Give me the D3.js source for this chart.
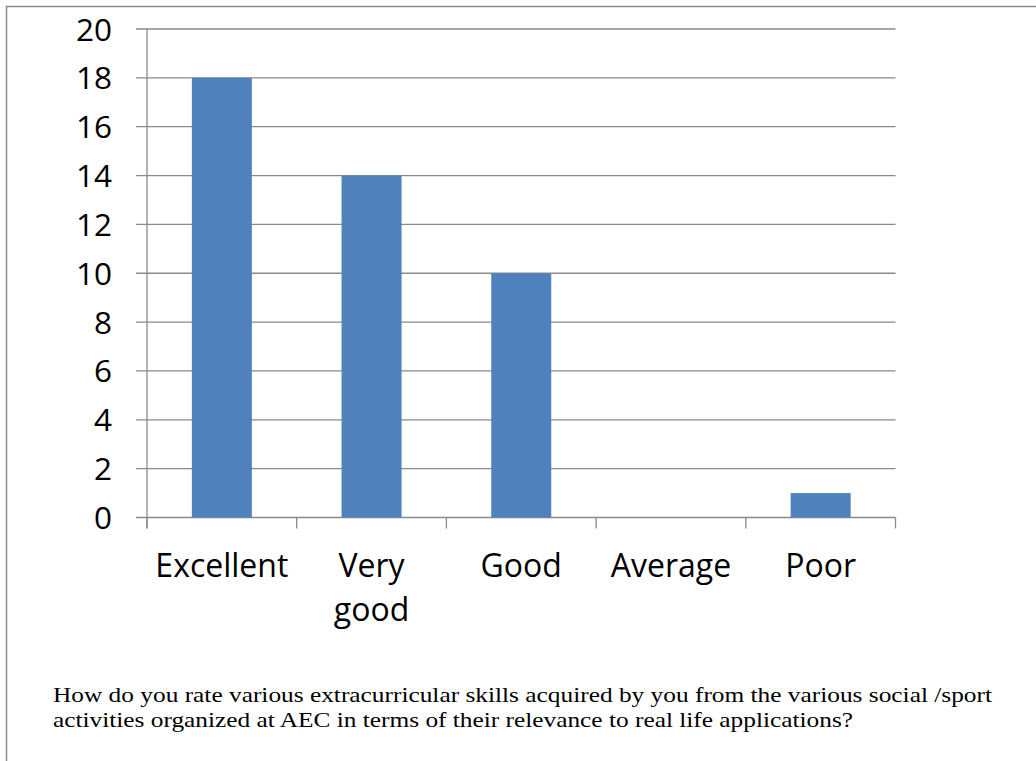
<!DOCTYPE html>
<html>
<head>
<meta charset="utf-8">
<script src="https://cdn.jsdelivr.net/npm/d3@7/dist/d3.min.js"></script>
<style>
html,body{margin:0;padding:0;background:#fff;}
svg{display:block;}
</style>
</head>
<body>
<svg id="chart" width="1036" height="761"></svg>
<script>
const categories = ["Excellent", "Very good", "Good", "Average", "Poor"];
const categoryLines = [["Excellent"], ["Very", "good"], ["Good"], ["Average"], ["Poor"]];
const values = [18, 14, 10, 0, 1];
const yTicks = [0, 2, 4, 6, 8, 10, 12, 14, 16, 18, 20];
const captionLines = [
  "How do you rate various extracurricular skills acquired by you from the various social /sport",
  "activities organized at AEC in terms of their relevance to real life applications?"
];
const captionWidths = [939, 800];

(function() {
const svg = d3.select("#chart");
const W = 1036, H = 761;
const pLeft = 147, pRight = 895.5, pTop = 29, pBottom = 517.5;

svg.append("rect").attr("x", 6.5).attr("y", 6.5).attr("width", W + 20).attr("height", H + 20)
  .attr("fill", "none").attr("stroke", "#8c8c8c").attr("stroke-width", 1.5);

const x = d3.scaleBand().domain(categories).range([pLeft, pRight]).paddingInner(0).paddingOuter(0);
const y = d3.scaleLinear().domain([0, 20]).range([pBottom, pTop]);

// gridlines
svg.append("g").selectAll("line").data(yTicks).join("line")
  .attr("x1", pLeft - 11).attr("x2", pRight)
  .attr("y1", d => y(d)).attr("y2", d => y(d))
  .attr("stroke", "#8a8a8a").attr("stroke-width", 1.3);

// y axis line
svg.append("line").attr("x1", pLeft).attr("x2", pLeft).attr("y1", pTop).attr("y2", pBottom + 11)
  .attr("stroke", "#8a8a8a").attr("stroke-width", 1.3);

// x ticks
const xTickPos = categories.map(c => x(c)).concat([pRight]);
svg.append("g").selectAll("line").data(xTickPos).join("line")
  .attr("x1", d => d).attr("x2", d => d).attr("y1", pBottom).attr("y2", pBottom + 11)
  .attr("stroke", "#8a8a8a").attr("stroke-width", 1.3);

// bars
const barW = 60;
svg.append("g").selectAll("rect").data(values).join("rect")
  .attr("x", (d, i) => x(categories[i]) + x.bandwidth() / 2 - barW / 2)
  .attr("width", barW)
  .attr("y", d => y(d))
  .attr("height", d => y(0) - y(d))
  .attr("fill", "#4F81BD");

// y labels
svg.append("g").selectAll("text").data(yTicks).join("text")
  .attr("x", 112).attr("y", d => y(d) + 11.5)
  .attr("text-anchor", "end")
  .attr("font-family", "'Open Sans', sans-serif").attr("font-size", 31.5)
  .attr("fill", "#000")
  .text(d => d);

// x labels
const xl = svg.append("g").selectAll("text").data(categories).join("text")
  .attr("text-anchor", "middle")
  .attr("font-family", "'Open Sans', sans-serif").attr("font-size", 32)
  .attr("fill", "#000");
xl.each(function(c, i) {
  const t = d3.select(this);
  categoryLines[i].forEach((ln, k) => {
    t.append("tspan").attr("x", x(c) + x.bandwidth() / 2).attr("y", 577 + k * 44).text(ln);
  });
});

// caption
svg.append("g").selectAll("text").data(captionLines).join("text")
  .attr("x", 53).attr("y", (d, i) => 702 + i * 25)
  .attr("font-family", "'Liberation Serif', 'Times New Roman', serif").attr("font-size", 22)
  .attr("textLength", (d, i) => captionWidths[i])
  .attr("lengthAdjust", "spacingAndGlyphs")
  .attr("fill", "#000")
  .text(d => d);
})();
</script>
</body>
</html>
